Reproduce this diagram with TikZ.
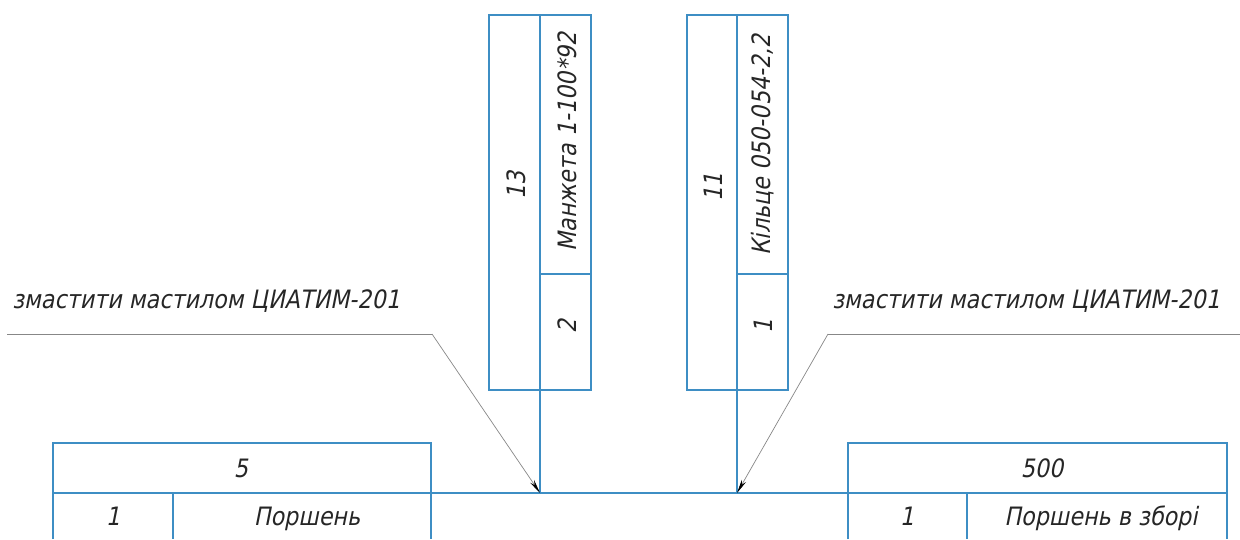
\documentclass[tikz,border=0pt]{standalone}
\usepackage{fontspec}
\setmainfont{DejaVu Sans}[FakeSlant=0.2, FakeStretch=0.88]
\usepackage{tikz}
\usetikzlibrary{arrows.meta}
\definecolor{frameblue}{RGB}{62,142,196}
\definecolor{leadergray}{RGB}{135,135,135}

\begin{document}
\begin{tikzpicture}[x=0.025cm, y=-0.025cm,
    frame/.style={draw=frameblue, line width=1.1pt},
    leader/.style={draw=leadergray, line width=0.5pt},
    lbl/.style={font=\fontsize{18}{18}\selectfont, inner sep=0pt, text=black!85}]
    % coordinates are pixels of the sheet, y runs downwards
    \useasboundingbox (0,0) rectangle (1240,539);
    \def\yt{15}     % top of the two label blocks
    \def\yd{274}    % divider in the right column of a block
    \def\yb{390}    % bottom of the blocks
    \def\ym{493}    % main line, also the middle of the tables
    \def\yh{443}    % top of the tables
    \def\ye{539}    % tables run out of the sheet

    % Block of item 13 (Manzheta)
    \draw[frame] (489,\yt) rectangle (591,\yb);
    \draw[frame] (540,\yd) -- (591,\yd);
    \draw[frame] (540,\yt) -- (540,\ym);
    \node[lbl, rotate=90] (posA) at (516,185) {13};
    \node[lbl, rotate=90] (nameA) at (567,142) {Манжета 1-100*92};
    \node[lbl, rotate=90] (qtyA) at (567,326) {2};

    % Block of item 11 (Kiltse)
    \draw[frame] (687,\yt) rectangle (788,\yb);
    \draw[frame] (737,\yd) -- (788,\yd);
    \draw[frame] (737,\yt) -- (737,\ym);
    \node[lbl, rotate=90] (posB) at (713,187) {11};
    \node[lbl, rotate=90] (nameB) at (763,145) {Кільце 050-054-2,2};
    \node[lbl, rotate=90] (qtyB) at (763,326) {1};

    % Left table (Porshen)
    \draw[frame] (53,\ye) -- (53,\yh) -- (431,\yh) -- (431,\ye);
    \draw[frame] (53,\ym) -- (431,\ym);
    \draw[frame] (173,\ym) -- (173,\ye);
    \node[lbl, anchor=base] (codeL) at (241,477) {5};
    \node[lbl, anchor=base] (qtyL) at (113,525) {1};
    \node[lbl, anchor=base] (nameL) at (307,525) {Поршень};

    % Right table (Porshen v zbori)
    \draw[frame] (848,\ye) -- (848,\yh) -- (1227,\yh) -- (1227,\ye);
    \draw[frame] (848,\ym) -- (1227,\ym);
    \draw[frame] (967,\ym) -- (967,\ye);
    \node[lbl, anchor=base] (codeR) at (1042,477) {500};
    \node[lbl, anchor=base] (qtyR) at (907,525) {1};
    \node[lbl, anchor=base] (nameR) at (1101,525) {Поршень в зборі};

    % Main line between the tables
    \draw[frame] (431,\ym) -- (848,\ym);

    % Lubrication notes with their leaders
    \node[lbl, anchor=base west] (noteL) at (12,308) {змастити мастилом ЦИАТИМ-201};
    \node[lbl, anchor=base west] (noteR) at (832,308) {змастити мастилом ЦИАТИМ-201};
    \coordinate (startL) at (7,334);
    \coordinate (kneeL) at (432,334);
    \coordinate (tipL) at (540,\ym);
    \coordinate (endR) at (1240,334);
    \coordinate (kneeR) at (828,334);
    \coordinate (tipR) at (737,\ym);
    \draw[leader] (startL) -- (kneeL);
    \draw[leader, -{Stealth[length=10pt, width=3.4pt, color=black]}] (kneeL) -- (tipL);
    \draw[leader] (endR) -- (kneeR);
    \draw[leader, -{Stealth[length=10pt, width=3.4pt, color=black]}] (kneeR) -- (tipR);
\end{tikzpicture}
\end{document}
